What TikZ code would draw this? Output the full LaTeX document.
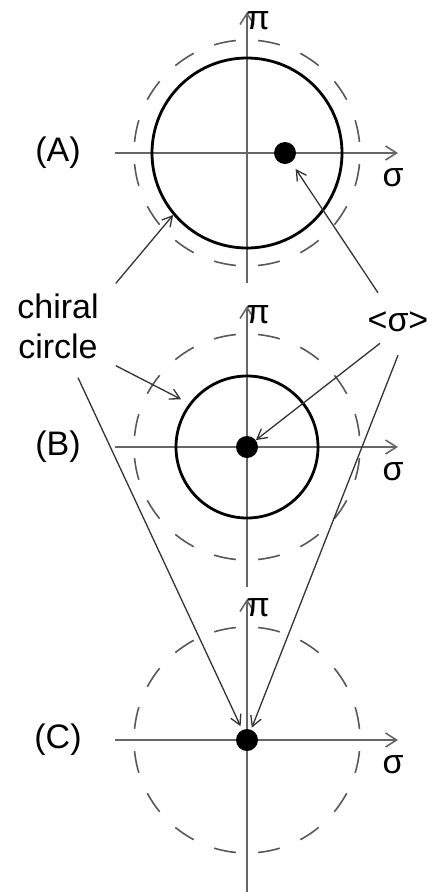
\documentclass[tikz,border=0pt]{standalone}
\usepackage{fontspec}
\setmainfont{Liberation Sans}
\usetikzlibrary{arrows.meta}

\begin{document}
\begin{tikzpicture}[
  x=1pt, y=-1pt,
  axis/.style={draw=black!60, line width=1.8pt,
               -{Straight Barb[length=11pt, width=14pt, line width=1.6pt]}},
  ring/.style={draw, circle, line width=2.8pt, inner sep=0pt},
  bound/.style={draw=black!65, line width=1.6pt, dash pattern=on 22.19pt off 22.19pt,
                dash phase=33.28pt},
  vev/.style={circle, fill=black, inner sep=0pt, minimum size=22pt},
  lbl/.style={font=\fontsize{34}{40}\selectfont, inner sep=0pt, align=center},
  pointer/.style={draw=black!80, line width=1.3pt,
                  -{Straight Barb[length=10pt, width=11pt, line width=1.3pt]}}]
  \useasboundingbox (0,0) rectangle (427,892);
  % panels: name / origin y / dot x / ring radius / axis below origin
  \foreach \name/\y/\dotx/\rad/\low in {A/153/285/95/130, B/447/247/71/140, C/740/247/0/152}{
    \coordinate (o\name) at (247,\y);
    \draw[bound] (o\name) circle[radius=113];
    \draw[axis] (115,\y) -- (398,\y);
    \draw[axis] (247,\y+\low) -- (247,\y-141);
    \ifnum\rad>0
      \node[ring, minimum size=2*\rad*1pt] (ring\name) at (o\name) {};
    \fi
    \node[vev] (dot\name) at (\dotx,\y) {};
    \node[lbl] (pi\name) at (258,\y-132) {π};
    \node[lbl] (sig\name) at (393,\y+25) {σ};
    \node[lbl] (tag\name) at (58,\y) {(\name)};
  }
  \node[lbl] (lblChiral) at (58,326) {chiral\\circle};
  \node[lbl] (lblVev) at (398,322) {<σ>};
  % pointers from the labels
  \draw[pointer] ([shift={(17,-10)}]lblChiral.north east) -- (ringA.220);
  \draw[pointer, shorten >=9pt] ([shift={(17,7)}]lblChiral.south east) -- (ringB.143);
  \draw[pointer, shorten >=4pt] ([shift={(20,19)}]lblChiral.south) -- (dotC);
  \draw[pointer, shorten >=8pt] ([shift={(-20,-19)}]lblVev.north) -- (dotA);
  \draw[pointer] ([shift={(-18,11)}]lblVev.south) -- (dotB);
  \draw[pointer, shorten >=2pt] ([shift={(0,23)}]lblVev.south) -- (dotC);
\end{tikzpicture}
\end{document}
